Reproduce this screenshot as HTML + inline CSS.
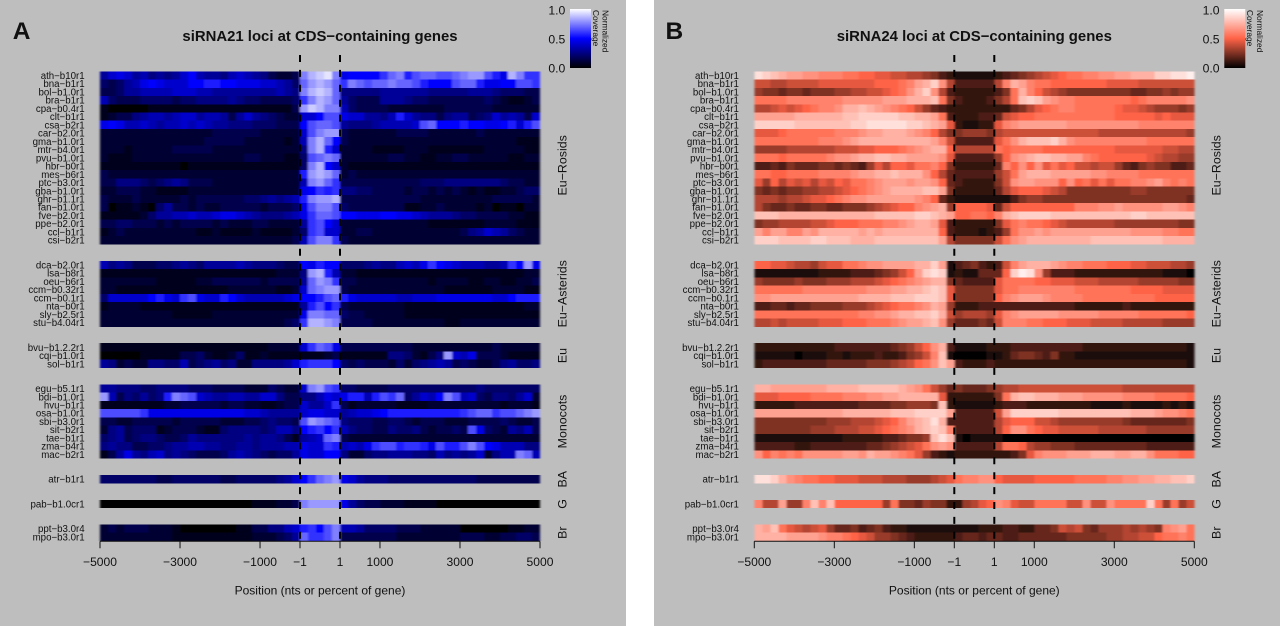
<!DOCTYPE html>
<html lang="en">
<head>
<meta charset="utf-8">
<title>siRNA21 and siRNA24 loci at CDS-containing genes</title>
<style>
html,body{margin:0;padding:0;background:#fff;width:1280px;height:626px;overflow:hidden}
svg{display:block}
text{font-family:"Liberation Sans",Arial,sans-serif;fill:#111}
</style>
</head>
<body>
<svg id="figure" xmlns="http://www.w3.org/2000/svg" width="1280" height="626" viewBox="0 0 1280 626">
<defs>
<linearGradient id="legend-blue" x1="0" y1="1" x2="0" y2="0"><stop offset="0" stop-color="#000"/><stop offset="0.5" stop-color="#00f"/><stop offset="1" stop-color="#fff"/></linearGradient>
<linearGradient id="legend-tomato" x1="0" y1="1" x2="0" y2="0"><stop offset="0" stop-color="#000"/><stop offset="0.5" stop-color="#ff6347"/><stop offset="1" stop-color="#fff"/></linearGradient>
<filter id="soften" x="-2%" y="-2%" width="104%" height="104%"><feGaussianBlur stdDeviation="1.1 0.35"/></filter>
</defs>
</svg>
<script>
// Group names and row labels
const groupNames = ['Eu\u2212Rosids','Eu\u2212Asterids','Eu','Monocots','BA','G','Br'];
const labelsRosids = ['ath\u2212b10r1','bna\u2212b1r1','bol\u2212b1.0r1','bra\u2212b1r1','cpa\u2212b0.4r1','clt\u2212b1r1','csa\u2212b2r1','car\u2212b2.0r1','gma\u2212b1.0r1','mtr\u2212b4.0r1','pvu\u2212b1.0r1','hbr\u2212b0r1','mes\u2212b6r1','ptc\u2212b3.0r1','gba\u2212b1.0r1','ghr\u2212b1.1r1','fan\u2212b1.0r1','fve\u2212b2.0r1','ppe\u2212b2.0r1','ccl\u2212b1r1','csi\u2212b2r1'];
const labelsAsterids = ['dca\u2212b2.0r1','lsa\u2212b8r1','oeu\u2212b6r1','ccm\u2212b0.32r1','ccm\u2212b0.1r1','nta\u2212b0r1','sly\u2212b2.5r1','stu\u2212b4.04r1'];
const labelsEu = ['bvu\u2212b1.2.2r1','cqi\u2212b1.0r1','sol\u2212b1r1'];
const labelsMonocots = ['egu\u2212b5.1r1','bdi\u2212b1.0r1','hvu\u2212b1r1','osa\u2212b1.0r1','sbi\u2212b3.0r1','sit\u2212b2r1','tae\u2212b1r1','zma\u2212b4r1','mac\u2212b2r1'];
const labelsBA = ['atr\u2212b1r1'];
const labelsG = ['pab\u2212b1.0cr1'];
const labelsBr = ['ppt\u2212b3.0r4','mpo\u2212b3.0r1'];
const xTickValues = [-5000,-3000,-1000,-1,1,1000,3000,5000];
const xTickLabels = ['\u22125000','\u22123000','\u22121000','\u22121','1','1000','3000','5000'];
const legendTicks = [1.0,0.5,0.0];
const legendTickLabels = ['1.0','0.5','0.0'];

// Normalized coverage in twentieths; each row has 25 upstream, 5 gene-body and 25 downstream bins
const si21Rosids = [
[6,8,9,8,6,7,5,6,5,6,8,10,7,6,6,5,7,8,7,6,5,3,2,2,3,15,17,18,19,15,9,10,10,10,10,12,14,15,11,13,14,14,13,13,14,15,16,16,13,11,9,17,15,12,12],
[4,3,4,6,7,9,10,9,8,8,8,10,10,11,11,10,10,9,9,9,8,8,7,6,4,14,16,17,16,14,12,15,14,13,14,14,15,14,14,13,11,10,10,10,13,14,14,11,9,9,10,10,13,13,12],
[3,3,4,6,6,7,7,7,7,8,8,8,7,7,6,6,6,6,6,6,6,6,7,6,5,15,17,18,17,14,5,5,5,5,5,6,6,6,6,6,6,5,5,5,5,5,6,6,6,5,4,4,4,3,3],
[7,4,3,3,3,4,4,4,4,3,4,4,5,5,5,5,6,5,4,4,3,3,3,3,4,12,15,17,16,14,6,4,3,3,3,6,6,6,5,4,4,3,3,3,3,3,3,3,4,3,2,1,1,2,3],
[1,0,0,0,0,0,1,1,1,1,1,1,1,1,1,1,1,1,1,1,1,1,1,1,3,16,18,17,15,15,7,4,3,3,3,3,2,2,2,2,2,2,2,3,3,3,3,3,3,2,2,2,2,2,2],
[1,2,3,3,5,6,7,7,6,7,8,8,6,7,7,6,3,6,8,6,5,4,3,2,2,8,8,10,13,13,9,8,8,6,6,5,7,11,8,6,5,5,3,5,6,6,3,4,5,8,6,7,6,3,8],
[9,10,9,7,7,8,7,6,7,7,8,7,8,7,6,6,5,5,5,4,4,4,3,3,3,10,13,14,14,13,6,5,5,5,6,7,7,7,7,8,13,14,10,10,10,11,10,10,9,9,10,11,8,11,13],
[2,2,2,2,2,2,2,2,2,2,2,2,2,2,3,3,3,3,3,3,2,2,2,2,2,8,13,15,16,16,3,2,2,2,2,2,2,3,3,3,3,2,2,2,2,2,2,3,2,2,2,2,2,2,2],
[2,2,2,2,2,2,2,2,2,2,2,2,2,3,3,3,3,3,2,2,2,2,2,1,2,7,15,17,14,10,3,2,2,2,2,2,2,2,2,2,2,2,2,2,2,2,2,2,2,2,2,2,1,1,1],
[2,2,2,1,2,2,2,2,2,3,3,3,3,3,2,2,2,2,2,2,2,2,2,2,2,5,15,17,11,8,2,2,2,2,1,1,1,1,2,2,2,1,1,1,1,1,1,1,2,2,2,2,2,1,1],
[2,1,1,1,2,2,2,2,2,2,2,2,2,2,2,2,2,2,3,3,2,2,2,1,1,4,13,14,15,14,2,2,2,2,2,2,3,3,2,2,1,1,2,2,3,3,2,2,2,2,2,1,1,2,2],
[1,1,1,1,1,1,1,1,1,1,0,1,1,1,1,1,1,1,1,1,1,1,1,1,1,4,15,17,10,8,2,1,1,1,1,1,1,1,1,1,1,1,1,1,1,1,1,1,1,1,1,1,1,1,1],
[3,2,2,2,2,2,2,2,2,2,2,2,2,2,2,2,2,2,2,2,2,2,2,2,2,11,16,17,16,14,2,3,2,2,2,2,2,2,2,2,2,2,2,2,2,2,2,2,2,2,2,2,2,2,2],
[3,3,5,5,5,4,3,4,5,6,5,3,3,3,2,2,2,2,2,2,2,2,2,2,2,7,15,16,14,12,3,3,3,3,3,3,3,3,3,3,4,4,4,5,5,5,5,5,5,5,4,3,3,2,2],
[2,2,3,3,3,2,2,1,1,1,1,2,2,2,2,2,2,2,2,2,2,2,2,2,2,9,10,12,11,12,5,5,4,4,3,3,3,3,2,3,3,2,3,2,3,2,1,2,1,1,2,2,3,4,4],
[3,2,2,2,3,2,2,2,2,2,3,2,3,3,3,3,3,3,4,4,5,6,5,6,7,11,15,16,16,17,3,3,3,3,3,3,3,3,3,3,2,2,2,2,2,2,2,2,2,3,3,3,3,3,2],
[3,0,1,1,2,1,0,4,6,3,3,2,3,2,2,3,3,3,3,3,2,3,3,3,4,9,13,15,15,13,4,3,3,3,3,3,3,3,1,1,2,2,3,2,2,2,2,1,2,0,1,1,0,2,2],
[1,1,1,1,1,2,4,6,6,7,7,8,7,7,8,9,9,8,7,6,5,5,5,6,7,9,12,14,14,13,10,10,9,9,9,10,10,9,9,8,7,6,6,6,5,4,4,3,3,3,3,2,2,1,1],
[3,3,4,4,3,3,3,2,3,2,3,3,3,3,2,3,2,2,2,3,3,2,2,2,2,6,12,13,10,8,2,2,2,2,2,2,2,2,2,2,2,1,1,1,1,1,1,1,2,2,2,2,1,1,1],
[1,2,3,2,2,2,2,2,2,2,2,2,1,1,2,1,1,1,1,2,1,1,1,1,2,4,12,13,8,8,2,2,3,3,2,2,2,2,2,2,2,2,2,2,2,3,5,6,8,7,6,4,3,2,2],
[2,2,2,2,2,2,2,2,2,2,2,2,2,2,2,2,2,2,2,2,2,2,2,2,3,7,13,15,15,12,3,2,2,2,2,2,2,2,2,2,2,2,2,2,2,2,2,2,2,2,2,2,2,2,2]
];
const si21Asterids = [
[7,5,6,5,3,3,3,4,4,5,6,5,4,6,6,6,6,7,6,5,5,5,4,3,3,10,9,11,10,10,4,4,4,5,6,5,5,7,8,7,9,12,10,9,8,7,7,7,6,6,7,12,10,16,9],
[1,1,1,1,1,1,1,1,1,1,1,1,1,1,1,1,1,1,1,1,1,1,2,2,2,5,16,17,11,7,2,2,1,1,1,1,1,1,1,1,1,1,1,1,1,1,1,1,1,1,1,1,1,2,2],
[2,2,2,2,2,2,2,1,1,1,1,1,2,2,3,3,3,3,3,3,2,3,3,3,3,6,14,16,15,12,3,3,2,2,2,2,2,2,2,2,2,1,2,2,2,2,1,1,2,2,1,1,2,2,3],
[2,2,1,1,1,1,1,1,1,1,1,1,1,1,1,1,2,2,2,2,2,2,1,1,2,8,14,15,16,16,3,2,2,2,2,2,2,2,2,2,2,2,2,1,1,1,1,1,1,2,2,2,2,1,1],
[4,8,8,8,8,8,10,11,9,8,12,13,9,8,8,11,10,8,7,7,7,7,7,8,9,10,10,11,13,14,11,9,8,8,8,8,8,7,7,8,8,8,9,9,9,9,9,9,9,8,8,10,11,11,11],
[1,2,2,2,2,1,1,1,1,1,1,1,1,1,1,1,1,1,1,1,1,1,1,1,1,6,11,13,10,12,3,2,2,2,2,2,2,2,1,1,1,1,1,1,1,1,1,1,1,1,1,1,1,2,2],
[2,2,2,2,2,2,2,2,2,1,1,1,1,1,2,2,2,2,2,2,2,2,2,2,2,9,15,15,14,14,4,3,3,2,2,2,2,2,1,1,1,1,1,1,1,1,1,1,1,1,1,1,1,1,1],
[2,2,2,2,2,2,2,2,2,2,2,2,2,2,2,2,2,2,2,2,2,2,2,3,4,12,17,17,16,15,3,3,3,3,2,2,2,2,2,2,2,2,2,1,1,2,2,2,2,2,2,2,2,2,2]
];
const si21Eu = [
[1,1,1,1,1,1,1,1,1,1,1,1,1,1,1,1,1,1,1,1,1,2,2,2,2,8,12,14,13,9,3,3,3,3,3,3,3,3,3,2,2,2,2,2,2,2,2,2,2,3,2,2,2,2,2],
[0,0,0,0,0,1,1,1,1,1,3,3,4,2,1,1,2,4,1,1,2,1,1,1,1,1,1,1,2,3,1,1,1,1,1,1,5,5,4,2,1,3,5,16,8,7,9,3,3,3,2,1,1,1,1],
[6,5,2,3,2,2,5,5,4,4,7,3,4,5,6,4,5,2,2,5,5,5,5,6,8,11,12,12,12,10,4,3,4,3,3,3,2,4,2,4,5,6,7,6,3,4,3,2,2,3,5,6,4,4,5]
];
const si21Monocots = [
[6,6,5,5,5,4,4,5,5,5,5,4,4,4,3,3,3,3,2,2,2,4,3,2,2,8,15,16,13,12,4,4,3,3,3,3,4,4,4,4,4,4,4,4,4,4,4,5,4,4,4,4,4,4,4],
[16,7,3,5,4,6,4,5,11,15,14,13,8,7,6,6,7,7,6,6,8,8,5,3,3,5,5,7,9,8,9,11,11,7,11,13,12,14,4,6,8,7,10,15,13,7,8,4,3,5,5,4,6,8,2],
[1,1,1,1,1,1,1,1,2,2,3,3,3,3,3,2,3,3,2,2,1,1,2,3,3,8,6,6,8,12,3,1,2,2,2,2,2,1,1,1,1,2,2,2,2,2,2,2,2,2,1,2,2,2,1],
[13,13,13,13,13,12,9,9,9,9,9,9,9,9,9,9,9,9,8,8,7,6,6,6,6,8,9,9,8,8,6,7,8,8,9,10,11,11,11,11,11,11,11,11,11,12,13,14,14,12,13,13,14,15,16],
[3,3,2,2,3,3,3,3,3,2,3,3,3,3,3,2,2,2,3,3,4,5,4,4,3,13,16,15,14,13,5,4,4,4,3,3,4,4,3,2,3,3,3,2,2,2,3,3,3,3,4,3,2,2,3],
[2,5,6,3,4,4,4,1,2,3,3,3,2,1,1,4,5,5,5,5,4,5,7,7,5,10,11,12,10,12,7,5,4,4,3,3,5,4,4,5,3,2,3,3,4,3,13,9,4,3,2,6,5,7,3],
[4,5,6,3,4,5,5,4,3,3,4,6,5,5,5,5,5,5,6,5,6,6,5,3,1,6,7,8,14,15,3,2,2,2,2,2,2,2,2,2,2,2,2,2,2,2,2,2,2,2,2,2,2,2,2],
[5,6,5,5,3,3,4,4,5,6,6,7,7,6,6,5,5,6,6,5,6,6,6,7,7,9,8,8,12,11,7,8,7,9,12,13,13,11,12,12,11,9,13,11,11,13,15,13,10,9,7,7,7,5,5],
[1,3,6,9,6,5,7,8,5,6,5,4,3,3,3,4,6,7,6,5,4,3,4,4,6,9,8,8,10,10,5,2,2,4,5,5,6,6,6,5,5,4,7,5,6,5,6,8,2,5,7,7,15,14,7]
];
const si21BA = [
[4,4,4,4,4,4,4,3,3,4,4,4,4,4,4,3,3,4,4,4,4,4,5,6,8,10,12,14,15,16,9,8,6,5,5,5,4,4,4,4,4,4,4,4,4,4,4,3,3,3,3,3,3,3,3]
];
const si21G = [
[0,0,0,0,0,0,0,0,0,0,0,0,0,0,0,0,0,0,0,1,1,1,2,2,3,15,16,16,16,16,9,6,4,3,3,2,2,2,1,1,1,1,0,0,0,0,0,0,0,0,0,0,0,0,0]
];
const si21Br = [
[2,3,2,3,3,3,2,2,2,1,0,0,0,0,0,0,0,1,1,3,3,5,5,7,8,11,12,10,13,15,7,7,6,4,4,4,4,3,3,3,2,2,2,2,2,0,0,0,0,0,0,1,1,2,2],
[2,2,2,2,2,2,2,2,2,1,1,1,1,1,1,1,1,1,1,2,2,2,3,4,6,14,12,12,13,15,3,3,3,3,3,3,3,2,2,2,2,2,2,2,2,3,3,3,2,2,3,3,4,4,3]
];

const si24Rosids = [
[18,17,16,15,14,14,13,13,12,12,12,11,11,10,10,9,9,8,8,7,7,6,5,3,2,1,1,1,1,1,2,3,4,5,6,7,8,9,10,11,11,12,12,13,13,14,14,15,15,15,17,17,18,18,19],
[8,8,7,7,8,8,8,8,9,9,9,9,9,9,9,10,10,10,11,12,14,15,17,13,7,3,3,3,3,3,7,12,15,14,12,11,11,10,10,10,10,10,10,10,9,9,9,9,8,8,8,8,8,8,8],
[6,5,5,4,5,5,4,5,5,5,6,6,7,7,8,8,9,10,11,13,15,17,13,7,3,2,2,2,2,2,3,5,11,15,12,10,8,7,6,5,5,5,5,5,5,5,5,4,4,5,5,6,5,6,6],
[11,11,11,11,12,12,12,12,12,12,12,13,13,13,13,13,14,14,14,15,15,15,16,11,5,3,2,2,2,3,5,7,11,16,17,16,14,13,12,12,11,11,11,11,11,11,11,10,11,12,12,12,12,12,13],
[7,7,8,9,8,9,10,11,12,12,13,15,15,16,15,14,13,12,11,10,8,6,4,3,2,2,2,2,2,2,2,2,4,5,7,9,10,11,12,12,11,11,11,11,11,10,9,9,8,7,6,6,6,5,6],
[14,14,14,14,14,15,15,15,15,15,15,16,16,17,17,17,17,17,16,16,15,15,14,11,3,2,2,2,3,3,4,8,9,10,10,11,11,11,11,11,11,11,11,11,11,10,10,10,10,10,9,10,9,9,9],
[17,17,17,17,17,16,16,16,16,16,16,16,17,17,18,18,18,18,18,17,17,16,15,14,9,2,1,1,2,2,9,12,13,14,14,14,14,14,14,13,13,13,13,13,13,13,13,13,12,12,12,12,12,12,12],
[9,9,9,10,11,11,11,11,11,11,12,12,12,13,14,14,15,15,15,14,13,12,10,7,5,5,6,6,6,5,7,8,8,8,8,8,8,8,8,8,8,8,8,7,7,7,7,7,7,7,7,7,7,7,6],
[11,11,11,11,11,11,11,11,12,12,12,13,14,15,15,15,15,15,15,15,15,15,14,12,8,3,3,3,3,3,9,11,13,15,16,16,16,17,15,13,12,12,12,12,12,12,12,12,12,11,11,11,11,11,11],
[6,6,6,6,7,7,7,7,7,7,8,8,8,9,9,10,10,10,11,12,13,14,15,15,10,7,7,7,7,7,11,10,11,11,11,11,10,10,10,10,10,10,10,10,10,9,9,9,9,9,9,8,8,7,7],
[11,11,11,10,11,11,11,11,11,12,13,13,14,15,15,16,16,15,15,14,14,14,14,13,9,3,3,3,3,3,6,10,13,14,15,16,16,15,15,14,14,12,11,10,10,10,10,10,10,9,8,7,7,6,6],
[3,3,4,3,5,4,4,4,5,5,4,5,4,3,6,9,7,10,10,9,11,11,12,10,5,2,2,2,2,2,4,12,10,13,10,13,9,11,9,10,8,8,7,8,8,6,4,3,5,6,5,5,3,3,4],
[11,11,10,10,11,11,11,11,12,12,12,12,13,14,14,15,15,16,15,15,15,13,10,7,4,3,3,3,3,3,6,8,11,14,15,15,15,14,14,14,14,14,13,13,12,12,12,12,11,11,11,11,11,11,11],
[9,6,10,7,9,8,9,7,9,8,10,9,11,11,12,13,14,14,14,13,14,14,13,10,4,3,2,2,2,2,5,8,13,14,14,13,13,13,10,13,10,11,9,11,9,11,11,12,12,13,14,12,11,12,11],
[5,4,5,4,5,5,6,6,7,7,8,9,10,11,12,13,14,15,15,15,15,16,16,14,5,2,2,2,2,2,4,7,9,10,10,10,9,8,7,5,5,5,5,5,5,5,5,6,6,5,5,5,5,5,5],
[7,7,7,6,7,7,8,9,9,10,11,12,13,13,14,14,14,14,14,14,13,12,10,4,2,1,1,1,1,1,1,1,3,5,6,6,5,5,5,5,5,5,5,5,5,5,5,5,5,5,5,5,5,5,4],
[7,5,4,4,5,4,4,5,5,4,4,5,5,5,6,7,8,9,10,10,12,13,14,15,6,10,10,10,10,9,4,8,10,10,10,10,10,10,10,10,12,12,12,13,13,14,13,13,13,13,13,14,14,13,12],
[16,16,16,15,15,15,15,15,15,15,15,15,15,15,15,16,16,16,16,16,17,17,16,15,14,10,10,11,11,10,12,15,16,17,17,17,17,16,16,16,16,16,16,16,16,16,16,17,17,16,16,16,16,16,16],
[5,6,6,7,7,7,7,8,8,9,10,10,10,11,11,11,12,12,13,14,15,15,14,9,3,2,2,2,2,2,5,9,11,12,11,11,10,9,8,7,7,7,7,7,7,6,6,6,6,6,6,6,6,5,5],
[14,12,14,14,12,12,14,13,15,15,15,15,15,14,15,14,15,15,15,15,15,15,15,10,3,2,2,2,1,2,3,6,11,13,13,14,13,14,14,14,14,14,14,14,14,14,14,13,13,13,13,12,12,11,11],
[17,17,17,16,16,16,16,17,17,16,16,16,15,15,15,16,16,16,16,16,16,16,16,14,7,5,5,5,5,5,8,11,13,14,15,15,15,15,15,15,15,15,16,16,16,16,16,16,16,16,16,15,15,15,15]
];
const si24Asterids = [
[10,10,9,9,8,7,7,6,8,9,9,11,11,12,13,13,14,14,14,14,15,15,17,14,1,3,4,5,3,2,3,8,12,14,15,15,15,14,13,12,12,11,11,11,10,10,10,9,9,8,8,8,7,7,6],
[1,1,1,1,1,1,1,1,2,2,2,2,3,3,3,4,5,6,8,10,14,17,18,17,1,2,1,1,4,4,4,10,17,19,18,13,6,3,3,3,2,2,2,2,2,2,2,2,2,2,2,1,1,1,0],
[6,5,5,5,5,6,5,5,5,6,6,6,7,7,7,8,9,10,11,12,13,14,15,15,5,4,3,3,3,3,9,11,11,11,11,10,10,9,9,9,8,8,8,7,7,7,7,7,6,6,6,6,6,5,5],
[11,11,11,11,11,11,12,12,12,12,12,12,12,12,13,13,13,14,14,15,15,16,17,16,9,5,5,5,5,5,9,11,11,12,12,12,12,12,12,12,11,11,11,11,11,11,11,10,10,10,10,9,9,9,9],
[13,13,14,14,14,14,14,14,14,14,14,14,14,15,15,15,15,16,16,16,17,17,17,16,9,5,5,5,5,5,10,12,13,14,14,14,13,12,12,12,12,11,11,11,11,11,11,11,11,11,10,10,10,10,10],
[3,3,4,4,3,4,4,5,5,5,5,6,6,6,7,8,9,10,11,11,12,13,15,14,6,2,2,2,3,3,3,3,3,3,3,3,3,3,3,3,2,2,2,2,2,2,3,2,2,2,2,2,2,2,2],
[11,11,11,11,11,11,11,11,11,11,11,11,11,12,12,13,13,14,15,15,16,16,17,15,8,6,7,7,7,6,9,12,13,14,14,14,14,14,13,13,13,13,13,12,12,12,12,12,11,11,11,11,11,11,10],
[7,7,8,7,8,8,8,8,9,9,9,10,10,10,11,11,11,12,13,14,14,15,16,13,6,4,4,4,5,4,8,12,12,12,11,11,10,10,10,9,9,9,8,8,8,8,7,7,7,7,7,6,6,6,6]
];
const si24Eu = [
[2,2,2,2,2,2,2,2,2,2,3,3,3,3,3,3,3,4,5,6,8,10,13,15,3,1,1,1,1,2,2,2,3,3,3,3,3,3,3,3,3,2,2,2,2,2,2,2,2,2,2,2,2,2,1],
[1,1,1,1,1,0,1,1,1,2,2,1,2,2,2,3,2,2,3,5,6,8,12,16,1,0,0,0,0,1,1,2,4,5,5,4,3,5,2,2,1,1,1,1,1,1,1,1,1,1,1,1,1,1,1],
[2,3,3,3,3,3,3,3,3,4,4,4,4,4,5,5,5,6,7,8,10,11,13,16,14,3,2,2,2,3,2,2,2,2,2,2,2,2,2,2,2,2,2,2,2,2,2,2,2,2,2,2,2,2,1]
];
const si24Monocots = [
[15,15,14,14,14,14,14,14,14,15,15,15,15,16,16,16,16,16,15,14,13,11,8,6,4,5,4,4,4,5,6,7,7,8,8,8,8,8,8,8,8,8,8,8,8,8,7,7,7,7,7,7,7,7,7],
[9,9,9,10,10,10,10,11,11,11,11,12,12,12,13,13,14,14,15,15,15,15,15,9,2,2,2,2,2,2,5,11,15,16,16,15,15,15,14,14,14,13,13,13,13,13,12,12,12,12,11,11,11,11,10],
[2,2,2,2,2,3,3,3,3,3,3,3,3,4,4,4,4,5,5,6,6,6,5,16,2,1,1,1,1,1,2,3,3,3,2,2,2,2,2,2,2,2,1,1,1,1,2,1,1,1,1,2,1,2,1],
[14,14,14,14,14,14,14,14,14,14,14,15,15,15,15,15,15,16,16,16,17,17,17,17,14,3,3,3,3,3,8,14,17,17,17,17,17,17,16,16,16,16,16,16,16,16,16,15,15,15,14,13,13,12,11],
[5,5,5,5,5,5,5,5,5,6,6,6,7,7,7,8,9,10,12,14,15,16,18,15,3,3,3,3,3,3,7,9,10,10,10,8,8,7,6,6,6,6,6,6,6,6,5,4,4,4,4,4,4,4,5],
[5,5,5,5,5,5,5,6,6,6,7,7,7,8,8,9,10,11,12,13,15,16,17,16,12,3,3,3,3,3,7,10,13,13,11,10,9,9,8,8,8,8,8,7,7,7,7,7,7,6,6,6,6,6,6],
[1,1,1,1,1,1,1,1,1,1,1,2,2,2,2,2,3,3,4,5,5,6,16,18,16,1,0,1,1,1,1,0,0,0,0,0,0,0,0,0,0,0,0,0,0,0,0,0,0,0,0,0,0,0,0],
[3,3,3,3,3,2,2,3,3,3,3,3,3,3,4,4,5,6,7,8,9,11,13,14,13,3,3,3,3,3,7,11,11,10,7,6,6,5,5,5,4,4,4,4,4,4,4,4,4,3,3,3,3,3,3],
[13,10,12,11,12,11,13,13,13,13,13,14,14,13,15,14,14,13,12,11,9,6,3,2,1,2,2,2,2,2,2,2,3,5,9,12,13,13,13,14,14,14,15,15,15,14,14,15,15,13,11,11,11,10,10]
];
const si24BA = [
[18,18,17,15,13,12,11,11,10,10,9,9,9,8,8,8,7,7,7,6,6,6,7,8,9,11,12,12,13,13,10,9,9,9,9,10,10,10,10,10,11,11,11,11,12,12,13,13,14,14,15,15,16,16,17]
];
const si24G = [
[12,7,7,14,6,6,12,16,12,16,10,10,10,10,10,10,6,11,5,5,4,6,5,5,2,2,6,7,9,10,13,12,9,8,8,11,11,11,11,8,8,13,8,8,13,11,11,11,11,17,11,6,11,6,8]
];
const si24Br = [
[15,14,16,11,9,8,7,8,9,6,4,4,5,3,4,5,3,2,2,1,1,1,1,1,1,1,1,1,2,2,2,3,3,2,2,4,4,5,8,7,8,5,4,6,6,6,7,6,7,6,5,12,13,14,11],
[15,15,15,15,14,14,14,14,13,12,12,11,10,9,8,6,6,5,4,3,2,2,2,2,2,3,4,4,3,4,4,3,3,4,4,4,4,4,4,5,5,5,5,5,6,6,7,7,8,8,10,11,11,12,11]
];

const svgNS = 'http://www.w3.org/2000/svg';
const figure = document.getElementById('figure');
const FLANK_BINS = 25, BODY_BINS = 5, GROUP_GAP_ROWS = 2;
const rowLabelGroups = [labelsRosids,labelsAsterids,labelsEu,labelsMonocots,labelsBA,labelsG,labelsBr];

function make(parent, tag, attrs) {
  const el = document.createElementNS(svgNS, tag);
  for (const k in attrs) el.setAttribute(k, attrs[k]);
  parent.appendChild(el);
  return el;
}
// Piecewise x axis: flank nucleotides and percent-of-gene core
function xScale(pos, x0) {
  if (pos <= -1) return x0 + 100 + (pos + 5000) / 4999 * 200;
  if (pos <= 1) return x0 + 300 + (pos + 1) / 2 * 40;
  return x0 + 340 + (pos - 1) / 4999 * 200;
}
function yScale(slot) { return 71.3 + slot * 8.24; }
function binEdges(col) {
  if (col < FLANK_BINS) return [-5000 + col * 4999 / FLANK_BINS, -5000 + (col + 1) * 4999 / FLANK_BINS];
  if (col < FLANK_BINS + BODY_BINS) { const c = col - FLANK_BINS; return [-1 + c * 2 / BODY_BINS, -1 + (c + 1) * 2 / BODY_BINS]; }
  const c = col - FLANK_BINS - BODY_BINS;
  return [1 + c * 4999 / FLANK_BINS, 1 + (c + 1) * 4999 / FLANK_BINS];
}
function ramp(v, mid) {
  const t = Math.max(0, Math.min(1, v / 20));
  const c = mid.map(m => t < 0.5 ? m * t * 2 : m + (255 - m) * (t - 0.5) * 2);
  return 'rgb(' + c.map(Math.round).join(',') + ')';
}

function drawPanel(opts) {
  const x0 = opts.x0;
  const panel = make(figure, 'g', {});
  
  

  const bg = make(panel, 'rect', {x: opts.bgX, y: 0, width: opts.bgW, height: 626, fill: '#bebebe'});
  
  

  const letter = make(panel, 'text', {x: opts.letterX, y: 39, 'font-size': 24.5, 'font-weight': 'bold', fill: '#000'});
  letter.textContent = opts.letter;
  
  

  const title = make(panel, 'text', {x: x0 + 320, y: 41, 'font-size': 14.9, 'font-weight': 'bold', 'text-anchor': 'middle'});
  title.textContent = opts.title;
  
  

  const cells = make(panel, 'g', {filter: 'url(#soften)', 'shape-rendering': 'crispEdges'});
  
  

  let slot = 0;
  opts.data.forEach((groupRows, g) => {
    const groupStart = slot;
    groupRows.forEach((row, r) => {
      row.forEach((v, col) => {
        const e = binEdges(col);
        const xa = xScale(e[0], x0), xb = xScale(e[1], x0);
        const cell = make(cells, 'rect', {x: xa, y: yScale(slot), width: xb - xa, height: 8.3, fill: ramp(v, opts.mid)});
        
        
      });
      const lab = make(panel, 'text', {x: x0 + 84.6, y: yScale(slot) + 7.6, 'font-size': 9.7, 'text-anchor': 'end'});
      lab.textContent = rowLabelGroups[g][r];
      
      
      slot++;
    });
    const nudge = g === 0 ? 7.5 : 0;
    const cy = (yScale(groupStart) + yScale(slot)) / 2 + nudge;
    const gx = x0 + 566.4;
    const gl = make(panel, 'text', {x: gx, y: cy, 'font-size': 12.4, 'text-anchor': 'middle', transform: 'rotate(-90 ' + gx + ' ' + cy + ')'});
    gl.textContent = groupNames[g];
    
    
    slot += GROUP_GAP_ROWS;
  });

  const axisY = yScale(slot - GROUP_GAP_ROWS) + 0.3;
  const axisLine = make(panel, 'line', {x1: xScale(-5000, x0), x2: xScale(5000, x0), y1: axisY, y2: axisY, stroke: '#111', 'stroke-width': 1});
  
  

  xTickValues.forEach((p, i) => {
    const tx = xScale(p, x0);
    const tick = make(panel, 'line', {x1: tx, x2: tx, y1: axisY, y2: axisY + 7, stroke: '#111', 'stroke-width': 1});
    
    
    const tl = make(panel, 'text', {x: tx, y: 566, 'font-size': 12.1, 'text-anchor': 'middle'});
    tl.textContent = xTickLabels[i];
    
    
  });

  [-1, 1].forEach(p => {
    const lx = xScale(p, x0);
    const dash = make(panel, 'line', {x1: lx, x2: lx, y1: 55, y2: axisY, stroke: '#000', 'stroke-width': 2, 'stroke-dasharray': '7 7.9'});
    
    
  });

  const xt = make(panel, 'text', {x: x0 + 320, y: 594.5, 'font-size': 12, 'text-anchor': 'middle'});
  xt.textContent = 'Position (nts or percent of gene)';
  
  

  const bar = make(panel, 'rect', {x: x0 + 570, y: 9, width: 21, height: 59, fill: 'url(#' + opts.gradient + ')'});
  
  

  legendTicks.forEach((t, i) => {
    const ly = 68 - t * 58 + 4.3;
    const lt = make(panel, 'text', {x: x0 + 565.3, y: ly, 'font-size': 12.2, 'text-anchor': 'end'});
    lt.textContent = legendTickLabels[i];
    
    
  });

  const nx = x0 + 602.5, cx = x0 + 592.8;
  const legN = make(panel, 'text', {x: nx, y: 10, 'font-size': 8.4, transform: 'rotate(90 ' + nx + ' 10)'});
  legN.textContent = 'Normalized';
  
  
  const legC = make(panel, 'text', {x: cx, y: 10, 'font-size': 8.4, transform: 'rotate(90 ' + cx + ' 10)'});
  legC.textContent = 'Coverage';
  
  
}

drawPanel({name:'panel-a', x0:0, bgX:0, bgW:626, letter:'A', letterX:12.7, title:'siRNA21 loci at CDS\u2212containing genes', mid:[0,0,255], gradient:'legend-blue',
  data:[si21Rosids,si21Asterids,si21Eu,si21Monocots,si21BA,si21G,si21Br]});
drawPanel({name:'panel-b', x0:654.3, bgX:654, bgW:626, letter:'B', letterX:665.5, title:'siRNA24 loci at CDS\u2212containing genes', mid:[255,99,71], gradient:'legend-tomato',
  data:[si24Rosids,si24Asterids,si24Eu,si24Monocots,si24BA,si24G,si24Br]});
</script>
</body>
</html>
